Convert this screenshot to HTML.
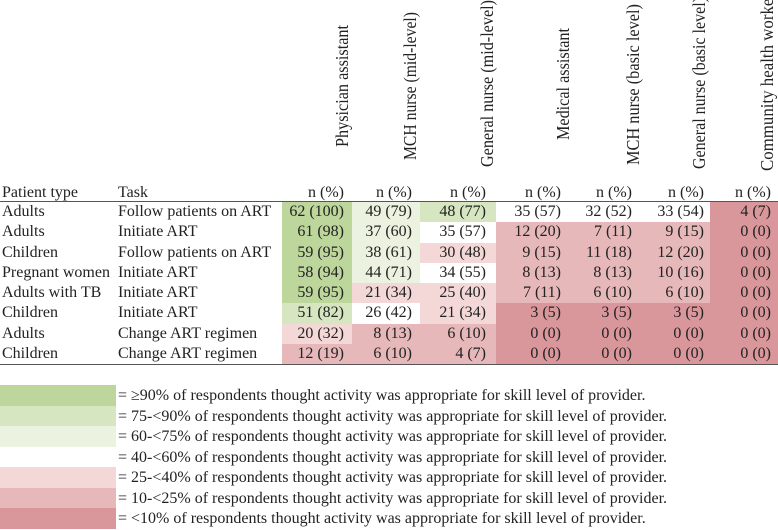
<!DOCTYPE html>
<html><head><meta charset="utf-8"><style>
body{margin:0;width:778px;height:530px;background:#fff;overflow:hidden;position:relative;font-family:"Liberation Serif",serif;color:#222;font-size:16px}
.a{position:absolute;white-space:nowrap;line-height:20px}
.cell{position:absolute}
.hl{position:absolute;left:0;width:778px;height:1px;background:#555}
svg{position:absolute;left:0;top:0}
</style></head><body>
<div id="root"></div>
<svg id="hdr" width="778" height="180"></svg>
<script>
const cadres=["Physician assistant","MCH nurse (mid-level)","General nurse (mid-level)","Medical assistant","MCH nurse (basic level)","General nurse (basic level)","Community health worker"];
const patientTypes=["Adults","Adults","Children","Pregnant women","Adults with TB","Children","Adults","Children"];
const tasks=["Follow patients on ART","Initiate ART","Follow patients on ART","Initiate ART","Initiate ART","Initiate ART","Change ART regimen","Change ART regimen"];
const counts=[[62,49,48,35,32,33,4],[61,37,35,12,7,9,0],[59,38,30,9,11,12,0],[58,44,34,8,8,10,0],[59,21,25,7,6,6,0],[51,26,21,3,3,3,0],[20,8,6,0,0,0,0],[12,6,4,0,0,0,0]];
const pcts=[[100,79,77,57,52,54,7],[98,60,57,20,11,15,0],[95,61,48,15,18,20,0],[94,71,55,13,13,16,0],[95,34,40,11,10,10,0],[82,42,34,5,5,5,0],[32,13,10,0,0,0,0],[19,10,7,0,0,0,0]];
// shading category shown in the figure (0 = >=90% ... 6 = <10%)
const categories=[[0,2,1,3,3,3,6],[0,2,3,5,5,5,6],[0,2,4,5,5,5,6],[0,2,3,5,5,5,6],[0,4,4,5,5,5,6],[1,3,4,6,6,6,6],[4,5,5,6,6,6,6],[5,5,5,6,6,6,6]];
const legendLabels=["= \u226590% of respondents thought activity was appropriate for skill level of provider.","= 75-<90% of respondents thought activity was appropriate for skill level of provider.","= 60-<75% of respondents thought activity was appropriate for skill level of provider.","= 40-<60% of respondents thought activity was appropriate for skill level of provider.","= 25-<40% of respondents thought activity was appropriate for skill level of provider.","= 10-<25% of respondents thought activity was appropriate for skill level of provider.","= <10% of respondents thought activity was appropriate for skill level of provider."];
const legendColors=["#bdd69c","#d6e6c0","#ebf2e0","#ffffff","#f4d8d8","#e7b8ba","#da979b"];
const root=document.getElementById('root');
const colL=[282,352,420,496,567,638,710,778];
const textR=[344,412,486,561,632,704,771];
const rotX=[348,416,493,569,639,705,773];
const rotBottom=[147,160,167,140,165,169,171];
const rotLen=[122,148,167,112,161,172,178];
const top0=202,rowH=20.25;
function add(cls,txt,css){const d=document.createElement('div');d.className=cls;if(txt!==null)d.textContent=txt;Object.assign(d.style,css);root.appendChild(d);return d;}
const svg=document.getElementById('hdr');
cadres.forEach((c,j)=>{const t=document.createElementNS('http://www.w3.org/2000/svg','text');
t.textContent=c;


t.setAttribute('x',0);t.setAttribute('y',0);
t.setAttribute('text-anchor','start');
t.setAttribute('font-family','Liberation Serif, serif');
t.setAttribute('font-size','18');
t.setAttribute('fill','#222');
t.setAttribute('textLength',rotLen[j]);
t.setAttribute('lengthAdjust','spacingAndGlyphs');
t.setAttribute('transform','translate('+rotX[j]+','+rotBottom[j]+') rotate(-90)');
svg.appendChild(t);
const n=add('a','n (%)',{left:(textR[j]-60)+'px',width:'60px',textAlign:'right',top:'183px'});

});
let h=add('a','Patient type',{left:'2px',top:'183px'});


h=add('a','Task',{left:'118px',top:'183px'});


patientTypes.forEach((p,i)=>{const y=top0+rowH*i;
for(let j=0;j<cadres.length;j++){const c=add('cell',null,{left:colL[j]+'px',top:y+'px',width:(colL[j+1]-colL[j])+'px',height:(rowH+0.5)+'px',background:legendColors[categories[i][j]]});

}
const a=add('a',p,{left:'2px',top:y+'px'});


const b=add('a',tasks[i],{left:'118px',top:y+'px'});


for(let j=0;j<cadres.length;j++){const t=add('a',counts[i][j]+' ('+pcts[i][j]+')',{left:(textR[j]-70)+'px',width:'70px',textAlign:'right',top:y+'px'});

}
});
let l=add('hl',null,{top:'201px'});


l=add('hl',null,{top:'364px'});


legendLabels.forEach((t,i)=>{const y=385+20.5*i;
const b=add('cell',null,{left:'0px',top:y+'px',width:'116px',height:'21px',background:legendColors[i]});


const s=add('a',t,{left:'118px',top:(y+1)+'px'});

});
</script>
</body></html>
